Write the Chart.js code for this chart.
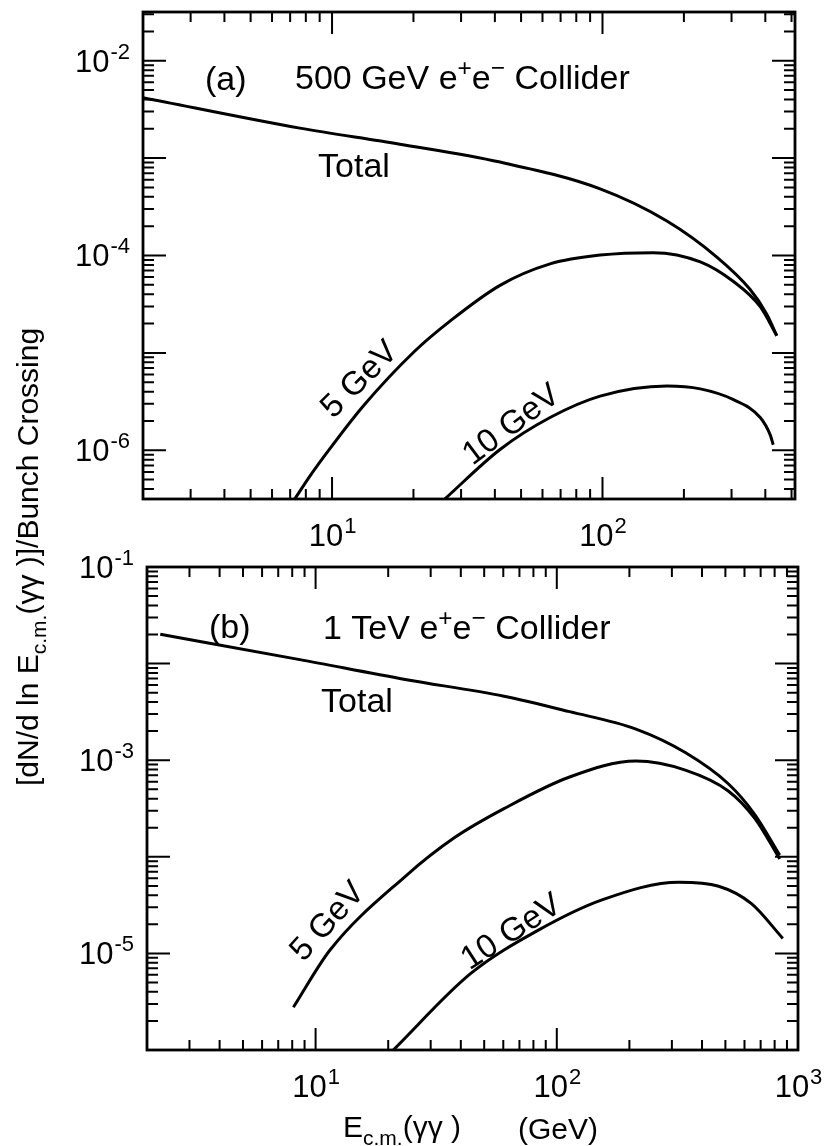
<!DOCTYPE html>
<html>
<head>
<meta charset="utf-8">
<script src="https://cdn.jsdelivr.net/npm/chart.js@4.4.1/dist/chart.umd.min.js"></script>
<style>
  html, body { margin:0; padding:0; background:#fff; }
  #wrap { position:relative; width:825px; height:1146px; }
  canvas { position:absolute; left:0; top:0; }
</style>
</head>
<body>
<div id="wrap">
  <canvas id="chartA" width="825" height="1146"></canvas>
  <canvas id="chartB" width="825" height="1146"></canvas>
</div>
<script>
// (a) 500 GeV e+e- collider
const aTotalE = [2, 7.6, 17.8, 41.8, 98, 173, 264, 351, 405, 441];
const aTotalN = [4.17e-3, 2.03e-3, 1.39e-3, 9.1e-4, 4.83e-4, 2.26e-4, 9.7e-5, 4.5e-5, 2.5e-5, 1.5e-5];
const a5E = [7.28, 8.27, 9.82, 13.0, 20.2, 27.3, 41.8, 64, 98, 154, 230, 305, 383, 441];
const a5N = [3.16e-7, 5.4e-7, 1.04e-6, 2.82e-6, 1.04e-5, 2.12e-5, 4.94e-5, 8.2e-5, 1.01e-4, 1.07e-4, 8.6e-5, 5.4e-5, 2.98e-5, 1.5e-5];
const a10E = [26.1, 41.8, 64, 98, 173, 230, 305, 383, 417, 428];
const a10N = [3.16e-7, 1.02e-6, 2.17e-6, 3.6e-6, 4.57e-6, 4.27e-6, 3.31e-6, 2.17e-6, 1.44e-6, 1.14e-6];

// (b) 1 TeV e+e- collider
const bTotalE = [2.27, 8.6, 23.5, 60.4, 113, 213, 341, 514, 662, 840];
const bTotalN = [2.01e-2, 1.10e-2, 6.85e-3, 4.6e-3, 3.18e-3, 2.1e-3, 1.2e-3, 5.7e-4, 2.74e-4, 1.04e-4];
const b5E = [8.09, 11.5, 23.5, 37.7, 60.4, 113, 213, 341, 514, 662, 840];
const b5N = [2.77e-6, 1.09e-5, 6.25e-5, 1.58e-4, 3.15e-4, 6.7e-4, 9.8e-4, 7.9e-4, 4.8e-4, 2.5e-4, 9.5e-5];
const b10E = [21, 44, 82.8, 155, 321, 469, 641, 865];
const b10N = [1e-6, 6.2e-6, 1.71e-5, 3.6e-5, 5.45e-5, 4.95e-5, 3.27e-5, 1.43e-5];

// axis ranges and labelled decades
const aXRange = [2, 515], aYRange = [3.162e-7, 3.162e-2];
const bXRange = [2, 1000], bYRange = [1e-6, 1e-1];
const aXTickExp = [1, 2], aYTickExp = [-2, -4, -6];
const bXTickExp = [1, 2, 3], bYTickExp = [-1, -3, -5];

const FONT = "'Liberation Sans', Arial, Helvetica, sans-serif";
const pts = (xs, ys) => xs.map((x, i) => ({x, y: ys[i]}));

// parts: [text, mode]  mode 0 normal, 1 superscript, -1 subscript
function rich(ctx, parts, x, y, size, measureOnly) {
  let cx = x;
  parts.forEach(([t, m]) => {
    const s = m === 1 ? size * 0.72 : m === -1 ? size * 0.7 : size;
    ctx.font = s + 'px ' + FONT;
    const dy = m === 1 ? -size * 0.38 : m === -1 ? size * 0.25 : 0;
    if (!measureOnly) ctx.fillText(t, cx, y + dy);
    cx += ctx.measureText(t).width;
  });
  return cx - x;
}

function logTicks(min, max) {
  const out = [];
  for (let d = Math.floor(Math.log10(min)); d <= Math.ceil(Math.log10(max)); d++)
    for (let k = 1; k < 10; k++) {
      const v = k * Math.pow(10, d);
      if (v >= min * 0.999 && v <= max * 1.001) out.push([v, k === 1]);
    }
  return out;
}

function pow10(ctx, e, x, y, align) {
  const exp = e < 0 ? '-' + (-e) : String(e);
  ctx.font = '31px ' + FONT;
  const w1 = ctx.measureText('10').width;
  ctx.font = '22px ' + FONT;
  const w2 = ctx.measureText(exp).width;
  const sx = align === 'right' ? x - w1 - w2 : x - (w1 + w2) / 2;
  ctx.font = '31px ' + FONT;
  ctx.fillText('10', sx, y);
  ctx.font = '22px ' + FONT;
  ctx.fillText(exp, sx + w1 + 1, y - 13);
}

const framePlugin = {
  id: 'frame',
  afterDatasetsDraw(chart, args, o) {
    const {ctx, chartArea: a, scales: {x, y}} = chart;
    ctx.save();
    ctx.strokeStyle = '#000';
    ctx.fillStyle = '#000';
    ctx.lineWidth = 2;
    ctx.beginPath();
    logTicks(o.xr[0], o.xr[1]).forEach(([v, major]) => {
      const px = x.getPixelForValue(v), L = major ? 22 : 10;
      ctx.moveTo(px, a.bottom); ctx.lineTo(px, a.bottom - L);
      ctx.moveTo(px, a.top); ctx.lineTo(px, a.top + L);
    });
    logTicks(o.yr[0], o.yr[1]).forEach(([v, major]) => {
      const py = y.getPixelForValue(v), L = major ? 23 : 11;
      ctx.moveTo(a.left, py); ctx.lineTo(a.left + L, py);
      ctx.moveTo(a.right, py); ctx.lineTo(a.right - L, py);
    });
    ctx.stroke();
    ctx.lineWidth = 2.8;
    ctx.strokeRect(a.left, a.top, a.right - a.left, a.bottom - a.top);

    ctx.textAlign = 'left';
    ctx.textBaseline = 'alphabetic';
    o.xExp.forEach(e => pow10(ctx, e, x.getPixelForValue(Math.pow(10, e)), a.bottom + 47, 'center'));
    o.yExp.forEach(e => pow10(ctx, e, a.left - 14, y.getPixelForValue(Math.pow(10, e)) + 11, 'right'));

    o.texts.forEach(t => {
      ctx.save();
      ctx.translate(t.x, t.y);
      if (t.rot) ctx.rotate(t.rot * Math.PI / 180);
      let sx = 0;
      if (t.center) sx = -rich(ctx, t.parts, 0, 0, t.size, true) / 2;
      rich(ctx, t.parts, sx, t.center ? t.size * 0.358 : 0, t.size);
      ctx.restore();
    });
    ctx.restore();
  }
};

function makeChart(id, pad, xr, yr, series, deco) {
  return new Chart(document.getElementById(id), {
    type: 'line',
    data: {
      datasets: series.map(s => ({
        data: s, borderColor: '#000', borderWidth: 3, pointRadius: 0,
        fill: false, cubicInterpolationMode: 'monotone'
      }))
    },
    options: {
      responsive: false, animation: false, events: [],
      layout: { padding: pad },
      plugins: {
        legend: { display: false }, tooltip: { enabled: false },
        frame: Object.assign({ xr, yr }, deco)
      },
      scales: {
        x: { type: 'logarithmic', min: xr[0], max: xr[1], display: false },
        y: { type: 'logarithmic', min: yr[0], max: yr[1], display: false }
      }
    },
    plugins: [framePlugin]
  });
}

const S = 34;
makeChart('chartA', { left: 143, top: 12, right: 30, bottom: 647 }, aXRange, aYRange,
  [pts(aTotalE, aTotalN), pts(a5E, a5N), pts(a10E, a10N)],
  { xExp: aXTickExp, yExp: aYTickExp, texts: [
    { x: 205, y: 90, size: S, parts: [['(a)', 0]] },
    { x: 295, y: 89, size: S, parts: [['500 GeV e', 0], ['+', 1], ['e', 0], ['\u2212', 1], [' Collider', 0]] },
    { x: 354, y: 165, size: S, center: true, parts: [['Total', 0]] },
    { x: 358, y: 378, size: 33, center: true, rot: -45, parts: [['5 GeV', 0]] },
    { x: 510, y: 423, size: 33, center: true, rot: -37, parts: [['10 GeV', 0]] }
  ]});

makeChart('chartB', { left: 147, top: 567, right: 27, bottom: 96 }, bXRange, bYRange,
  [pts(bTotalE, bTotalN), pts(b5E, b5N), pts(b10E, b10N)],
  { xExp: bXTickExp, yExp: bYTickExp, texts: [
    { x: 209, y: 638, size: S, parts: [['(b)', 0]] },
    { x: 323, y: 639, size: S, parts: [['1 TeV e', 0], ['+', 1], ['e', 0], ['\u2212', 1], [' Collider', 0]] },
    { x: 357, y: 700, size: S, center: true, parts: [['Total', 0]] },
    { x: 326, y: 920, size: 33, center: true, rot: -48, parts: [['5 GeV', 0]] },
    { x: 510, y: 930, size: 33, center: true, rot: -33, parts: [['10 GeV', 0]] },
    { x: 343, y: 1137, size: 30, parts: [['E', 0], ['c.m.', -1], ['(\u03b3\u03b3 )', 0]] },
    { x: 518, y: 1139, size: 30, parts: [['(GeV)', 0]] },
    { x: 38, y: 786, size: 30, rot: -90, parts: [['[dN/d ln E', 0], ['c.m.', -1], ['(\u03b3\u03b3 )]/Bunch Crossing', 0]] }
  ]});
</script>
</body>
</html>
